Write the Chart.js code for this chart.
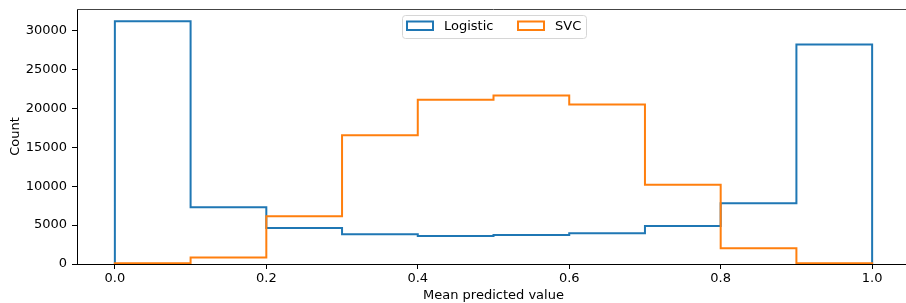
<!DOCTYPE html>
<html>
<head>
<meta charset="utf-8">
<script src="https://cdn.jsdelivr.net/npm/chart.js@4.4.1/dist/chart.umd.min.js"></script>
<style>
  html, body { margin: 0; padding: 0; background: #fff; overflow: hidden; }
  #wrap { width: 912px; height: 303px; }
</style>
</head>
<body>
<div id="wrap"><canvas id="histChart" width="912" height="303"></canvas></div>
<script>
const binEdges = [0.0, 0.1, 0.2, 0.3, 0.4, 0.5, 0.6, 0.7, 0.8, 0.9, 1.0];
const logisticCounts = [31200, 7300, 4620, 3820, 3600, 3730, 3950, 4880, 7800, 28200];
const svcCounts = [100, 830, 6120, 16550, 21100, 21650, 20480, 10170, 2010, 100];
const xTicks = [0.0, 0.2, 0.4, 0.6, 0.8, 1.0];
const yTicks = [0, 5000, 10000, 15000, 20000, 25000, 30000];

const FONT = "'DejaVu Sans', sans-serif";
const FSIZE = 13;
const BLUE = "#1f77b4";
const ORANGE = "#ff7f0e";

// turn bin counts into a step outline, like histtype="step"
function stepPoints(counts) {
    const pts = [{ x: binEdges[0], y: 0 }];
    counts.forEach((c, i) => {
        pts.push({ x: binEdges[i], y: c });
        pts.push({ x: binEdges[i + 1], y: c });
    });
    pts.push({ x: binEdges[binEdges.length - 1], y: 0 });
    return pts;
}

const yMax = Math.max(...logisticCounts, ...svcCounts) * 1.05;

// top spine + matplotlib style legend inside the axes
const framePlugin = {
    id: "frame",
    afterDraw(chart) {
        const ctx = chart.ctx;
        const a = chart.chartArea;
        ctx.save();
        ctx.strokeStyle = "#444";
        ctx.lineWidth = 1;
        ctx.beginPath();
        ctx.moveTo(a.left, a.top + 0.5);
        ctx.lineTo(a.right, a.top + 0.5);
        ctx.stroke();

        // legend box
        const lx = 402.5, ly = 15.5, lw = 184, lh = 23, r = 3;
        ctx.beginPath();
        ctx.moveTo(lx + r, ly);
        ctx.arcTo(lx + lw, ly, lx + lw, ly + lh, r);
        ctx.arcTo(lx + lw, ly + lh, lx, ly + lh, r);
        ctx.arcTo(lx, ly + lh, lx, ly, r);
        ctx.arcTo(lx, ly, lx + lw, ly, r);
        ctx.closePath();
        ctx.fillStyle = "rgba(255,255,255,0.8)";
        ctx.fill();
        ctx.strokeStyle = "#d6d6d6";
        ctx.stroke();

        const items = [
            { label: "Logistic", color: BLUE, x: 407 },
            { label: "SVC", color: ORANGE, x: 518 }
        ];
        ctx.font = FSIZE + "px " + FONT;
        ctx.textBaseline = "middle";
        ctx.textAlign = "left";
        items.forEach(it => {
            ctx.strokeStyle = it.color;
            ctx.lineWidth = 2;
            ctx.strokeRect(it.x, 21.5, 26, 8.5);
            ctx.fillStyle = "#000";
            ctx.fillText(it.label, it.x + 37, 26.5);
        });
        ctx.restore();
    }
};

new Chart(document.getElementById("histChart"), {
    type: "line",
    data: {
        datasets: [
            {
                label: "Logistic",
                data: stepPoints(logisticCounts),
                borderColor: BLUE,
                borderWidth: 2,
                pointRadius: 0,
                fill: false,
                tension: 0,
                borderJoinStyle: "miter",
                order: 1
            },
            {
                label: "SVC",
                data: stepPoints(svcCounts),
                borderColor: ORANGE,
                borderWidth: 2,
                pointRadius: 0,
                fill: false,
                tension: 0,
                borderJoinStyle: "miter",
                order: 0
            }
        ]
    },
    options: {
        responsive: false,
        animation: false,
        devicePixelRatio: 1,
        layout: { padding: { left: 0, right: 2, top: 9, bottom: 0 } },
        plugins: {
            legend: { display: false },
            tooltip: { enabled: false }
        },
        scales: {
            x: {
                type: "linear",
                min: -0.05,
                max: 1.05,
                afterBuildTicks: s => { s.ticks = xTicks.map(v => ({ value: v })); },
                afterFit: s => { s.height = 39; s.paddingLeft = 0; s.paddingRight = 0; },
                grid: { drawOnChartArea: false, drawTicks: true, tickLength: 5, color: "#000" },
                border: { display: true, color: "#000", width: 1 },
                ticks: {
                    color: "#000",
                    font: { family: FONT, size: FSIZE },
                    padding: 2,
                    maxRotation: 0,
                    callback: v => Number(v).toFixed(1)
                },
                title: {
                    display: true,
                    text: "Mean predicted value",
                    color: "#000",
                    font: { family: FONT, size: FSIZE },
                    padding: { top: 0, bottom: 0 }
                }
            },
            y: {
                type: "linear",
                min: 0,
                max: yMax,
                afterBuildTicks: s => { s.ticks = yTicks.map(v => ({ value: v })); },
                afterFit: s => { s.width = 77; s.paddingTop = 0; s.paddingBottom = 0; },
                grid: { drawOnChartArea: false, drawTicks: true, tickLength: 5, color: "#000" },
                border: { display: true, color: "#000", width: 1 },
                ticks: {
                    color: "#000",
                    font: { family: FONT, size: FSIZE },
                    padding: 5,
                    callback: v => String(v)
                },
                title: {
                    display: true,
                    text: "Count",
                    color: "#000",
                    font: { family: FONT, size: FSIZE },
                    padding: { top: 8, bottom: 0 }
                }
            }
        }
    },
    plugins: [framePlugin]
});
</script>
</body>
</html>
